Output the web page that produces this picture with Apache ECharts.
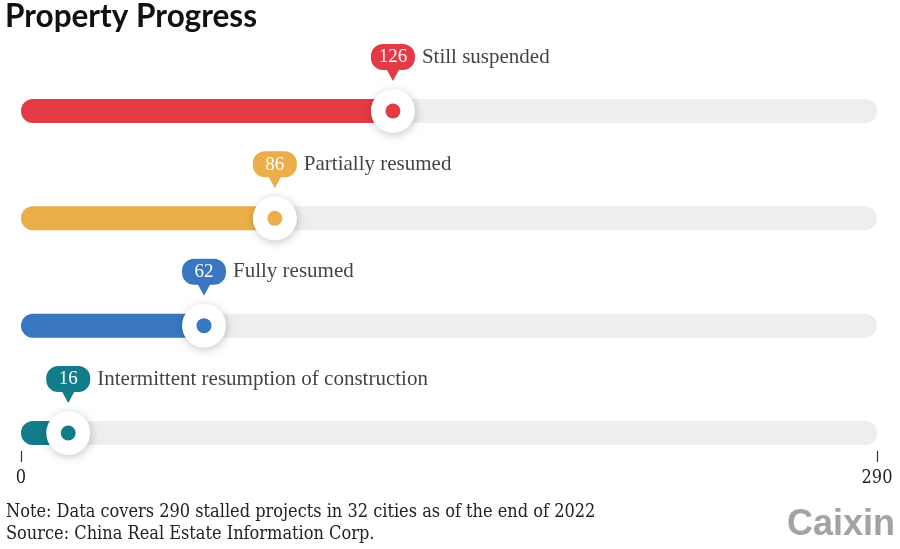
<!DOCTYPE html>
<html>
<head>
<meta charset="utf-8">
<script src="https://cdn.jsdelivr.net/npm/echarts@6/dist/echarts.min.js"></script>
<style>html,body{margin:0;padding:0;background:#fff}#c{width:900px;height:549px}</style>
</head>
<body>
<div id="c"></div>
<script>
var categories = ['Still suspended', 'Partially resumed', 'Fully resumed', 'Intermittent resumption of construction'];
var values = [126, 86, 62, 16];
var total = 290;
var colors = ['#e33a46', '#ebae4a', '#3a77c2', '#127c8a'];
var tickValues = [0, 290];
var titleText = 'Property Progress';
var noteLines = ['Note: Data covers 290 stalled projects in 32 cities as of the end of 2022', 'Source: China Real Estate Information Corp.'];

var serif = '"Liberation Serif", "DejaVu Serif", serif';
var condSerif = '"DejaVu Serif Condensed", "Liberation Serif", serif';
var bubblePath = 'path://M12,0 H32 A12,12 0 0 1 44,12 V14 A12,12 0 0 1 32,26 H28 L22,37 L16,26 H12 A12,12 0 0 1 0,14 V12 A12,12 0 0 1 12,0 Z';

var chart = echarts.init(document.getElementById('c'));
chart.setOption({
  animation: false,
  backgroundColor: '#fff',
  grid: { left: 21, right: 23, top: 111, bottom: 116 },
  xAxis: {
    type: 'value', min: 0, max: total, interval: total, offset: 18,
    axisLine: { show: false },
    splitLine: { show: false },
    axisTick: { show: true, length: 11, lineStyle: { color: '#333', width: 1.2 } },
    axisLabel: { margin: 18, color: '#222', fontFamily: condSerif, fontSize: 18,
      formatter: function (v) { return tickValues.indexOf(v) >= 0 ? String(v) : ''; } }
  },
  yAxis: {
    type: 'category', data: categories, inverse: true, boundaryGap: false,
    show: false
  },
  graphic: [
    { type: 'text', left: 5, top: 1, style: { text: titleText, font: 'bold 31.5px Lato, "Noto Sans", sans-serif', fill: '#111' } },
    { type: 'text', left: 6, top: 501, style: { text: noteLines.join('\n'), font: '18px ' + condSerif, fill: '#222', lineHeight: 22 } },
    { type: 'text', right: 5, top: 507, style: { text: 'Caixin', font: 'bold 36px "Liberation Sans Narrow", "Liberation Sans", Roboto, sans-serif', fill: '#a3a3a3' } }
  ],
  series: [
    { type: 'bar', data: categories.map(function () { return total; }), barWidth: 24, barGap: '-100%',
      itemStyle: { color: '#eeeeee', borderRadius: 12 }, z: 1, silent: true },
    { type: 'bar', data: values.map(function (v, i) { return { value: v, itemStyle: { color: colors[i] } }; }),
      barWidth: 24, barGap: '-100%', itemStyle: { borderRadius: 12 }, z: 2 },
    { type: 'scatter', data: values.map(function (v, i) { return [v, categories[i]]; }), symbolSize: 44,
      itemStyle: { color: '#fff', opacity: 1, shadowBlur: 10, shadowColor: 'rgba(0,0,0,0.22)', shadowOffsetY: 2, shadowOffsetX: 1 }, z: 3 },
    { type: 'scatter', data: values.map(function (v, i) { return { value: [v, categories[i]], itemStyle: { color: colors[i], opacity: 1 } }; }),
      symbolSize: 15, z: 4 },
    { type: 'scatter', data: values.map(function (v, i) { return { value: [v, categories[i]], itemStyle: { color: colors[i], opacity: 1 } }; }),
      symbol: bubblePath, symbolSize: [44, 37], symbolOffset: [0, -48.5], z: 5,
      label: { show: true, position: 'inside', offset: [0, -5], color: '#fff', fontFamily: serif, fontSize: 19,
        formatter: function (p) { return p.value[0]; } } },
    { type: 'scatter', data: values.map(function (v, i) { return [v, categories[i]]; }), symbolSize: 0, z: 5,
      label: { show: true, position: 'right', distance: 0, offset: [29, -54], color: '#111', fontFamily: serif, fontSize: 21,
        formatter: function (p) { return p.value[1]; } } }
  ]
});
</script>
</body>
</html>
